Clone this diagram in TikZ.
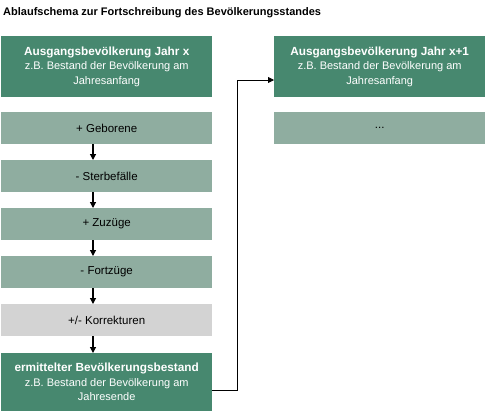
\documentclass[tikz,border=0pt]{standalone}
\usepackage{fontspec}
\setmainfont{Liberation Sans}
\usetikzlibrary{arrows.meta}
\definecolor{darkg}{HTML}{47886F}
\definecolor{lightg}{HTML}{8FADA0}
\definecolor{grayb}{HTML}{D3D3D3}
\begin{document}
\begin{tikzpicture}[x=1pt,y=-1pt,
  box/.style={anchor=north west, minimum width=211pt, inner sep=0pt, align=center, font=\fontsize{11}{14.5}\selectfont},
  darkbox/.style={box, fill=darkg, text=white, minimum height=61pt},
  lightbox/.style={box, fill=lightg, text=black, minimum height=32pt, font=\fontsize{11.5}{14}\selectfont},
  graybox/.style={lightbox, fill=grayb},
  arr/.style={-{Triangle[length=6pt,width=6pt]}, line width=1.2pt},
  conn/.style={-{Triangle[length=6pt,width=6pt]}, line width=0.8pt}]
\useasboundingbox (0,0) rectangle (486,413);
\node[anchor=base west, inner sep=0pt, font=\bfseries\fontsize{11}{13}\selectfont] (title) at (3,15.5) {Ablaufschema zur Fortschreibung des Bevölkerungsstandes};
\node[darkbox] (a) at (1,36) {{\bfseries\fontsize{11.8}{14.5}\selectfont Ausgangsbevölkerung Jahr x}\\z.B. Bestand der Bevölkerung am\\Jahresanfang};
\node[lightbox] (geb) at (1,112) {+ Geborene};
\node[lightbox] (st) at (1,160) {- Sterbefälle};
\node[lightbox] (zu) at (1,208) {+ Zuzüge};
\node[lightbox] (fo) at (1,256) {- Fortzüge};
\node[graybox] (ko) at (1,304) {+/- Korrekturen};
\node[darkbox, minimum height=58pt] (erm) at (1,353) {{\bfseries\fontsize{11.8}{14.5}\selectfont ermittelter Bevölkerungsbestand}\\z.B. Bestand der Bevölkerung am\\Jahresende};
\node[darkbox] (b) at (274,36) {{\bfseries\fontsize{11.8}{14.5}\selectfont Ausgangsbevölkerung Jahr x+1}\\z.B. Bestand der Bevölkerung am\\Jahresanfang};
\node[lightbox] (dots) at (274,112) {...};
\draw[arr] (geb.south -| 93,0) -- (st.north -| 93,0);
\draw[arr] (st.south -| 93,0) -- (zu.north -| 93,0);
\draw[arr] (zu.south -| 93,0) -- (fo.north -| 93,0);
\draw[arr] (fo.south -| 93,0) -- (ko.north -| 93,0);
\draw[arr] (ko.south -| 93,0) -- (erm.north -| 93,0);
\coordinate (c1) at (237,390);
\coordinate (c2) at (237,80);
\draw[conn] (erm.east |- c1) -- (c1) -- (c2) -- (b.west |- c2);
\end{tikzpicture}
\end{document}
